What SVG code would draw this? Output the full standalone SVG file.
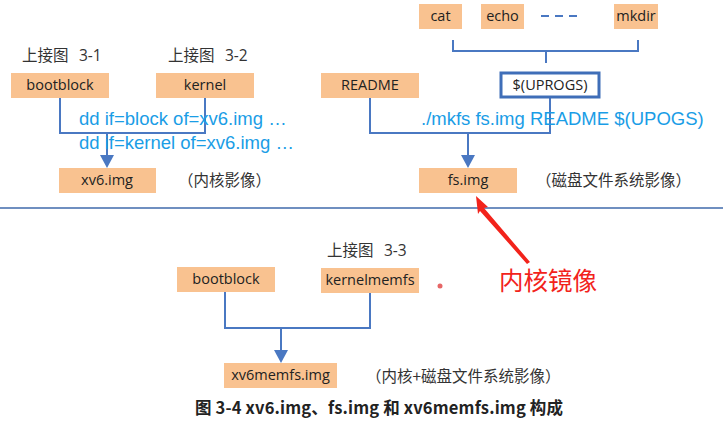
<svg xmlns="http://www.w3.org/2000/svg" width="723" height="436" viewBox="0 0 723 436">
<style>
.box{fill:#f9c290}
.lbl{font-family:"Open Sans","Liberation Sans",sans-serif;font-size:14.5px;fill:#222;text-anchor:middle}
.note{font-family:"Noto Sans CJK SC",sans-serif;font-size:15.5px;fill:#333}
.cmd{font-family:"Liberation Sans",Arial,sans-serif;fill:#1a9de6}
.ln{fill:none;stroke:#4a78c2;stroke-width:2}
</style>
<rect width="723" height="436" fill="#fff"/>

<text class="note" x="22" y="61" font-size="16">上接图 <tspan font-family="Open Sans,sans-serif" x="79">3-1</tspan></text>
<text class="note" x="168" y="61" font-size="16">上接图 <tspan font-family="Open Sans,sans-serif" x="225">3-2</tspan></text>
<text class="note" x="327" y="256" font-size="16">上接图 <tspan font-family="Open Sans,sans-serif" x="384">3-3</tspan></text>

<g id="connectors">
<polyline class="ln" points="60,97 60,133 205,133 205,97"/>
<line class="ln" x1="107" y1="133" x2="107" y2="156"/>
<path d="M100,155 L114,155 L107,168 z" fill="#4a78c2"/>
<polyline class="ln" points="370,98 370,133 550,133 550,98"/>
<line class="ln" x1="468" y1="133" x2="468" y2="156"/>
<path d="M461,155 L475,155 L468,168 z" fill="#4a78c2"/>
<polyline class="ln" points="453,40 453,51 638,51 638,40"/>
<line class="ln" x1="546" y1="51" x2="546" y2="63"/>
<polyline class="ln" points="225,292 225,328 370,328 370,293"/>
<line class="ln" x1="281" y1="328" x2="281" y2="351"/>
<path d="M274,350 L288,350 L281,363 z" fill="#4a78c2"/>
</g>

<g id="bootblock1"><rect class="box" x="11" y="73" width="98" height="25"/><text class="lbl" x="60" y="90">bootblock</text></g>
<g id="kernel"><rect class="box" x="156" y="73" width="98" height="25"/><text class="lbl" x="205" y="90">kernel</text></g>
<g id="xv6img"><rect class="box" x="59" y="168" width="97" height="25"/><text class="lbl" x="107" y="185">xv6.img</text></g>
<text class="note" x="178" y="186">（内核影像）</text>

<text class="cmd" x="79" y="125" font-size="18.5">dd if=block of=xv6.img …</text>
<text class="cmd" x="79" y="149" font-size="18.5">dd if=kernel of=xv6.img …</text>

<g id="cat"><rect class="box" x="419" y="4" width="43" height="25"/><text class="lbl" x="440.5" y="21">cat</text></g>
<g id="echo"><rect class="box" x="481" y="4" width="43" height="25"/><text class="lbl" x="502.5" y="21">echo</text></g>
<line x1="541" y1="16" x2="580" y2="16" stroke="#4a78c2" stroke-width="2" stroke-dasharray="8,6"/>
<g id="mkdir"><rect class="box" x="614" y="4" width="44" height="25"/><text class="lbl" x="636" y="21">mkdir</text></g>

<g id="readme"><rect class="box" x="321" y="73" width="98" height="25"/><text class="lbl" x="370" y="90">README</text></g>
<g id="uprogs"><rect x="501" y="73" width="98" height="24" fill="#fff" stroke="#3f6eb8" stroke-width="3"/><text class="lbl" x="550" y="90">$(UPROGS)</text></g>
<text class="cmd" x="421" y="125" font-size="18.5">./mkfs fs.img README $(UPOGS)</text>
<g id="fsimg"><rect class="box" x="419" y="168" width="98" height="25"/><text class="lbl" x="468" y="185">fs.img</text></g>
<text class="note" x="536" y="186">（磁盘文件系统影像）</text>

<line x1="0" y1="208" x2="723" y2="208" stroke="#6f8fc0" stroke-width="2"/>

<path d="M476,196 L488,207 L484,208 L530,262 L527,264 L480,211 L478,214 z" fill="#f2231b"/>
<text x="499" y="290" font-family="Noto Sans CJK SC,sans-serif" font-size="24.5" fill="#f2231b">内核镜像</text>

<g id="bootblock2"><rect class="box" x="177" y="267" width="98" height="25"/><text class="lbl" x="226" y="284">bootblock</text></g>
<g id="kernelmemfs"><rect class="box" x="321" y="268" width="98" height="25"/><text class="lbl" x="370" y="285">kernelmemfs</text></g>
<circle cx="440" cy="286" r="2.5" fill="#e04040" opacity="0.8"/>
<g id="xv6memfs"><rect class="box" x="224" y="363" width="113" height="25"/><text class="lbl" x="280.5" y="380">xv6memfs.img</text></g>
<text class="note" x="366" y="382" font-size="16">（内核+磁盘文件系统影像）</text>

<text x="195" y="414" font-family="Noto Sans CJK SC,sans-serif" font-size="16.5" font-weight="bold" fill="#222" textLength="368" lengthAdjust="spacing">图  3-4 xv6.img、fs.img 和 xv6memfs.img 构成</text>
</svg>
